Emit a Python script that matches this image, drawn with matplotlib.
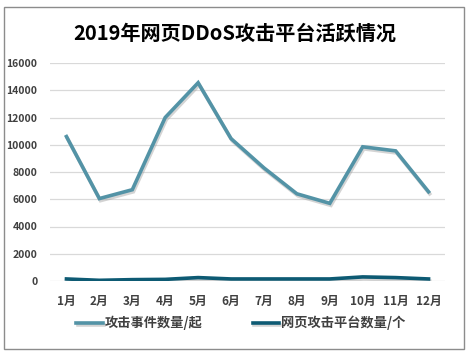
import matplotlib
matplotlib.use("Agg")
import matplotlib.pyplot as plt
import matplotlib.patheffects as pe
from matplotlib.patches import Rectangle

plt.rcParams['font.family'] = ['Noto Sans CJK SC', 'DejaVu Sans']

months = ['1月', '2月', '3月', '4月', '5月', '6月', '7月', '8月', '9月', '10月', '11月', '12月']
attacks = [10600, 6050, 6700, 12000, 14550, 10450, 8300, 6400, 5700, 9850, 9550, 6550]
platforms = [150, 50, 100, 120, 250, 150, 150, 150, 150, 300, 250, 150]
yticks = [0, 2000, 4000, 6000, 8000, 10000, 12000, 14000, 16000]

fig = plt.figure(figsize=(4.7, 3.55), dpi=100)
fig.patches.append(Rectangle((4/470, 1-349/355), 460/470, 342/355, transform=fig.transFigure,
                             fill=False, edgecolor='#8c8c8c', linewidth=1.0))

ax = fig.add_axes([50/470, 1-281/355, 395/470, 218/355])
x = list(range(len(months)))
shadow = [pe.SimpleLineShadow(offset=(0.8, -1.5), shadow_color='#a0a0a0', alpha=0.45), pe.Normal()]
l1, = ax.plot(x, attacks, color='#5393a6', linewidth=2.6, solid_joinstyle='miter', path_effects=shadow,
              label='攻击事件数量/起', zorder=3)
l2, = ax.plot(x, platforms, color='#0d5a73', linewidth=2.6, path_effects=shadow,
              label='网页攻击平台数量/个', zorder=3)

ax.set_xlim(-0.5, 11.5)
ax.set_ylim(0, 16000)
ax.set_yticks(yticks)
ax.set_yticklabels([str(v) for v in yticks])
ax.set_xticks(x)
ax.set_xticklabels(months)
ax.grid(axis='y', color='#d9d9d9', linewidth=0.9)
ax.set_axisbelow(True)
for s in ax.spines.values():
    s.set_visible(False)
ax.tick_params(axis='both', length=0, colors='#404040')
ax.tick_params(axis='x', pad=10, labelsize=8.5)
ax.tick_params(axis='y', pad=9, labelsize=7.5)
for t in ax.get_xticklabels() + ax.get_yticklabels():
    t.set_fontweight('bold')

fig.text(235/470, 1-33/355, '2019年网页DDoS攻击平台活跃情况', ha='center', va='center',
         fontsize=14.5, fontweight='bold', color='#000000')

leg = fig.legend(handles=[l1, l2], loc='center', bbox_to_anchor=(241/470, 1-323/355), ncol=2,
                 frameon=False, fontsize=9.5, handlelength=2.0, columnspacing=3.8, handletextpad=0.15)
for t in leg.get_texts():
    t.set_fontweight('bold')
    t.set_color('#404040')

fig.savefig('out.png', dpi=100)
